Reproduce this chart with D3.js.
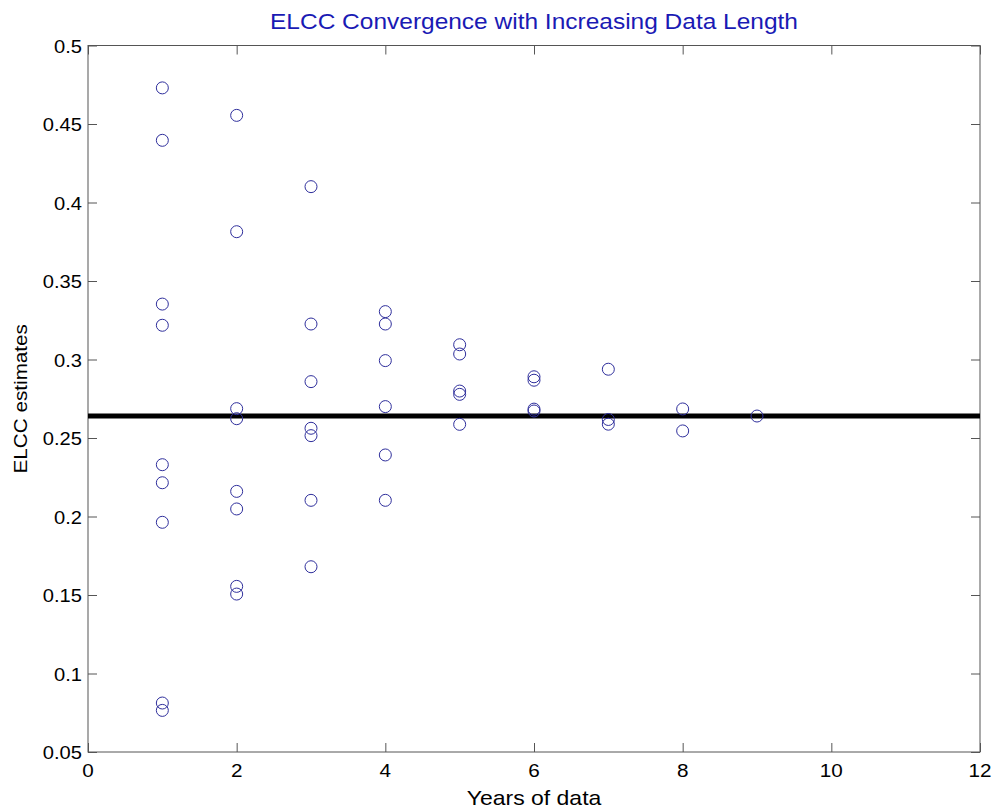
<!DOCTYPE html>
<html lang="en">
<head>
<meta charset="utf-8">
<title>ELCC Convergence with Increasing Data Length</title>
<style>
  body { margin: 0; background: #fff; }
  svg text { font-family: "Liberation Sans", Arial, sans-serif; }
</style>
</head>
<body>
<svg width="996" height="809"></svg>

<script src="https://d3js.org/d3.v7.min.js"></script>
<script>
// values, one list of estimates per data length
var years = [1, 2, 3, 4, 5, 6, 7, 8, 9];
var estimates = [
    [0.473, 0.4396, 0.3353, 0.3218, 0.233, 0.2215, 0.1963, 0.0812, 0.0765],
    [0.4555, 0.3814, 0.2687, 0.2623, 0.216, 0.2048, 0.1555, 0.1506],
    [0.4101, 0.3226, 0.2859, 0.2562, 0.2515, 0.2103, 0.168],
    [0.3305, 0.3226, 0.2993, 0.27, 0.2392, 0.2103],
    [0.3094, 0.3035, 0.2799, 0.2778, 0.2587],
    [0.2890, 0.2868, 0.2684, 0.2672],
    [0.2938, 0.2618, 0.2588],
    [0.2685, 0.2545],
    [0.264]
];
var referenceValue = 0.264;  // thick black line
var xTicks = [0, 2, 4, 6, 8, 10, 12];
var yTicks = [0.05, 0.1, 0.15, 0.2, 0.25, 0.3, 0.35, 0.4, 0.45, 0.5];

// plot box (note: "top" is taken by window.top)
var svg = d3.select("svg"),
    plotLeft = 88, plotTop = 45.5, plotRight = 980, plotBottom = 752,
    stretch = 1.15;  // the text in the picture is a little wide

var x = d3.scaleLinear().domain([0, 12]).range([plotLeft, plotRight]);
var y = d3.scaleLinear().domain([0.05, 0.5]).range([plotBottom, plotTop]);

// flatten to points
var points = [];
years.forEach(function(yr, i) {
    estimates[i].forEach(function(v) { points.push({ year: yr, value: v }); });
});

// frame
svg.append("rect")
    .attr("x", plotLeft).attr("y", plotTop)
    .attr("width", plotRight - plotLeft).attr("height", plotBottom - plotTop)
    .attr("fill", "none").attr("stroke", "#555").attr("stroke-width", 1);

// ticks pointing inward on all four sides
function drawAxis(axis, transform) {
    var g = svg.append("g").attr("transform", transform).call(axis);
    g.select(".domain").remove();
    g.selectAll("line").attr("stroke", "#555");
    return g;
}
drawAxis(d3.axisTop(x).tickValues(xTicks).tickSize(9).tickFormat(""), "translate(0," + plotBottom + ")");
drawAxis(d3.axisBottom(x).tickValues(xTicks).tickSize(9).tickFormat(""), "translate(0," + plotTop + ")");
drawAxis(d3.axisRight(y).tickValues(yTicks).tickSize(9).tickFormat(""), "translate(" + plotLeft + ",0)");
drawAxis(d3.axisLeft(y).tickValues(yTicks).tickSize(9).tickFormat(""), "translate(" + plotRight + ",0)");

// tick labels
svg.append("g").selectAll("text").data(xTicks).join("text")
    .attr("transform", function(d) { return "translate(" + x(d) + ",777) scale(" + stretch + ",1)"; })
    .attr("text-anchor", "middle")
    .attr("font-size", 18)
    .attr("fill", "#000")
    .text(function(d) { return d; });

svg.append("g").selectAll("text").data(yTicks).join("text")
    .attr("transform", function(d) { return "translate(82," + (y(d) + 7) + ") scale(" + stretch + ",1)"; })
    .attr("text-anchor", "end")
    .attr("font-size", 17.5)
    .attr("fill", "#000")
    .text(function(d) { return String(+d.toFixed(2)); });

// reference line
svg.append("line")
    .attr("x1", x(0)).attr("x2", x(12))
    .attr("y1", y(referenceValue)).attr("y2", y(referenceValue))
    .attr("stroke", "#000").attr("stroke-width", 5);

// circles
svg.append("g").selectAll("circle").data(points).join("circle")
    .attr("cx", function(d) { return x(d.year); })
    .attr("cy", function(d) { return y(d.value); })
    .attr("r", 6)
    .attr("fill", "none")
    .attr("stroke", "#2f2f9c")
    .attr("stroke-width", 1);

// title and axis labels
svg.append("text")
    .attr("transform", "translate(" + (plotLeft + plotRight) / 2 + ",29) scale(" + stretch + ",1)")
    .attr("text-anchor", "middle")
    .attr("font-size", 21.3)
    .attr("fill", "#1a1ab4")
    .text("ELCC Convergence with Increasing Data Length");

svg.append("text")
    .attr("transform", "translate(" + (plotLeft + plotRight) / 2 + ",805) scale(" + stretch + ",1)")
    .attr("text-anchor", "middle")
    .attr("font-size", 20)
    .attr("fill", "#000")
    .text("Years of data");

svg.append("text")
    .attr("transform", "translate(27," + (plotTop + plotBottom) / 2 + ") rotate(-90) scale(" + stretch + ",1)")
    .attr("text-anchor", "middle")
    .attr("font-size", 18)
    .attr("fill", "#000")
    .text("ELCC estimates");
</script>
</body>
</html>
